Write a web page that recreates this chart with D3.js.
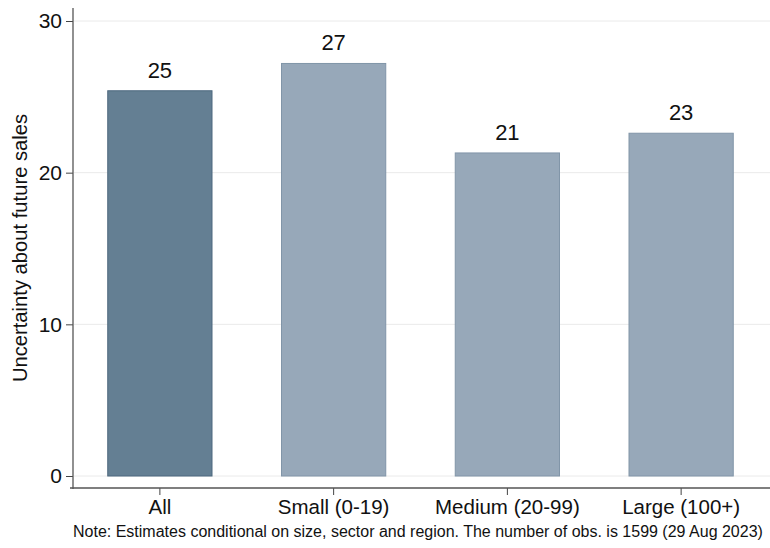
<!DOCTYPE html>
<html><head><meta charset="utf-8">
<script src="https://cdn.jsdelivr.net/npm/d3@7"></script>
<style>body{margin:0;background:#fff}svg{display:block;font-family:"Liberation Sans",Arial,sans-serif}</style>
</head><body>
<svg id="c" width="770" height="548"></svg>
<script>
const categories = ["All","Small (0-19)","Medium (20-99)","Large (100+)"];
const values = [25.4, 27.2, 21.3, 22.6];
const labels = ["25","27","21","23"];
const yTicks = [0,10,20,30];
const yTitle = "Uncertainty about future sales";
const note = "Note: Estimates conditional on size, sector and region. The number of obs. is 1599 (29 Aug 2023)";

const svg = d3.select("#c");
const y = d3.scaleLinear().domain([0,30]).range([476,21]);
const x = d3.scaleBand().domain(categories).range([73,768]).paddingInner(0.4).paddingOuter(0.2);

// gridlines
svg.append("g").selectAll("line").data(yTicks).join("line")
  .attr("x1",74).attr("x2",770).attr("y1",d=>y(d)).attr("y2",d=>y(d))
  .attr("stroke","#eaeaea").attr("stroke-width",1);

// bars
svg.append("g").selectAll("rect").data(values).join("rect")
  .attr("x",(d,i)=>x(categories[i])).attr("width",x.bandwidth())
  .attr("y",d=>y(d)).attr("height",d=>y(0)-y(d))
  .attr("fill",(d,i)=>i===0?"#647f93":"#97a8b9")
  .attr("stroke",(d,i)=>i===0?"#4d687e":"#8195a8").attr("stroke-width",1);

// value labels
svg.append("g").selectAll("text").data(values).join("text")
  .attr("x",(d,i)=>x(categories[i])+x.bandwidth()/2).attr("y",d=>y(d)-13)
  .attr("text-anchor","middle").style("font-size","22px").attr("fill","#111")
  .text((d,i)=>labels[i]);

// y axis
const ya = svg.append("g").attr("transform","translate(73,0)")
  .call(d3.axisLeft(y).tickValues(yTicks).tickSize(7).tickPadding(4));
ya.attr("font-size",null).attr("font-family",null);
ya.select(".domain").remove();
ya.append("line").attr("x1",0).attr("x2",0).attr("y1",8).attr("y2",489).attr("stroke","#555").attr("stroke-width",1.3);
ya.selectAll(".tick line").attr("stroke","#444");
ya.selectAll(".tick text").style("font-size","21px").attr("fill","#111");

// x axis
const xa = svg.append("g").attr("transform","translate(0,488)")
  .call(d3.axisBottom(x).tickSize(7).tickPadding(5));
xa.attr("font-size",null).attr("font-family",null);
xa.select(".domain").remove();
xa.append("line").attr("x1",70).attr("x2",770).attr("y1",0).attr("y2",0).attr("stroke","#555").attr("stroke-width",1.3);
xa.selectAll(".tick line").attr("stroke","#444");
xa.selectAll(".tick text").style("font-size","20.5px").attr("fill","#111").attr("dy","0.68em");

// y title
svg.append("text").attr("transform","translate(27,248) rotate(-90)")
  .attr("text-anchor","middle").style("font-size","20.2px").attr("fill","#111").text(yTitle);

// note
svg.append("text").attr("x",73).attr("y",537).style("font-size","16px").attr("fill","#111").text(note);
</script>
</body></html>
